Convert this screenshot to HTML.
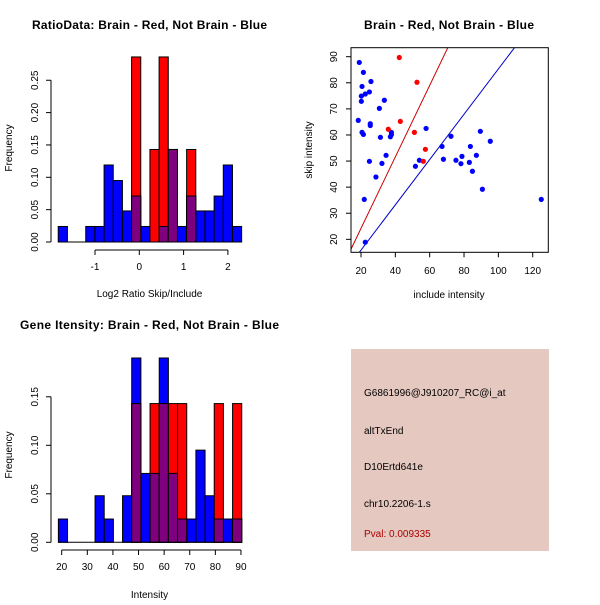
<!DOCTYPE html>
<html><head><meta charset="utf-8"><style>
body{margin:0;background:#fff}
svg text{font-family:"Liberation Sans",Arial,sans-serif}
</style></head><body>
<svg id="c" width="600" height="600" viewBox="0 0 600 600" xmlns="http://www.w3.org/2000/svg">
<rect width="600" height="600" fill="#fff"/>
</svg>
<script>
// ---- Ratio histogram data (20 bins) ----
const ratioBinStart = -1.83;
const ratioBinWidth = 0.207;
const ratioBlue = [0.024,0,0,0.024,0.024,0.119,0.095,0.048,0.071,0.024,0,0.024,0.143,0.024,0.071,0.048,0.048,0.071,0.119,0.024];
const ratioRed  = [0,0,0,0,0,0,0,0,0.286,0,0.143,0.286,0.143,0,0.143,0,0,0,0,0];
const ratioXTicks = [-1,0,1,2];
const ratioYTicks = ["0.00","0.05","0.10","0.15","0.20","0.25"];
// ---- Intensity histogram data (20 bins) ----
const intBinStart = 18.7;
const intBinWidth = 3.58;
const intBlue = [0.024,0,0,0,0.048,0.024,0,0.048,0.190,0.071,0.071,0.190,0.071,0.024,0.024,0.095,0.048,0.024,0.024,0.024];
const intRed  = [0,0,0,0,0,0,0,0,0.143,0,0.143,0.143,0.143,0.143,0,0,0,0.143,0,0.143];
const intXTicks = [20,30,40,50,60,70,80,90];
const intYTicks = ["0.00","0.05","0.10","0.15"];
// ---- Scatter data ----
const blueX = [19.0,21.4,20.6,25.8,24.9,22.5,20.2,20.2,33.6,30.7,18.4,25.4,25.4,20.6,21.4,31.3,37.7,37.7,37.1,34.6,24.9,32.2,28.7,21.9,22.5,57.9,54.0,51.7,72.4,67.2,68.0,75.3,78.8,78.2,83.1,83.7,87.2,84.9,89.5,95.3,90.7,125.0];
const blueY = [87.8,84.0,78.6,80.5,76.5,75.7,74.9,72.9,73.3,70.2,65.6,64.3,63.6,61.0,60.2,59.1,61.0,60.1,59.3,52.2,49.9,49.1,43.9,35.3,18.9,62.5,50.3,48.0,59.5,55.6,50.7,50.3,51.8,49.0,49.5,55.6,52.2,46.1,61.4,57.6,39.2,35.3];
const redX = [42.3,52.6,42.9,35.9,51.1,57.5,56.3];
const redY = [89.7,80.2,65.2,62.2,61.0,54.5,49.9];
const redLine = [-3.2,1.37];   // intercept, slope
const blueLine = [-1.5,0.868];
const scXTicks = [20,40,60,80,100,120];
const scYTicks = [20,30,40,50,60,70,80,90];

const svg = document.getElementById('c');
const NS = 'http://www.w3.org/2000/svg';
function mk(tag, attrs, parent){
  const e = document.createElementNS(NS, tag);
  for (const k in attrs) e.setAttribute(k, attrs[k]);
  (parent||svg).appendChild(e);
  return e;
}
function txt(s, x, y, size, opts){
  const t = mk('text', Object.assign({x:x, y:y, 'font-size':size, 'text-anchor':'middle', fill:'#000'}, opts||{}));
  t.textContent = s;
  return t;
}

function hist(cfg){
  const g = mk('g', {});
  
  
  const xs = v => cfg.x0 + (v - cfg.xv0) * cfg.xk;
  const ys = v => cfg.base - v * cfg.yk;
  cfg.blue.forEach((v,i)=>{
    if (v<=0) return;
    const a = cfg.bs + i*cfg.bw, b = a + cfg.bw;
    const r = mk('rect', {x:xs(a), y:ys(v), width:xs(b)-xs(a), height:ys(0)-ys(v), fill:'#0000ff', stroke:'#000', 'stroke-width':1}, g);
    
    
  });
  cfg.red.forEach((v,i)=>{
    if (v<=0) return;
    const a = cfg.bs + i*cfg.bw, b = a + cfg.bw;
    const ov = Math.min(v, cfg.blue[i]);
    const r = mk('rect', {x:xs(a), y:ys(v), width:xs(b)-xs(a), height:ys(0)-ys(v), fill:'#ff0000', stroke:'#000', 'stroke-width':1}, g);
    
    
    if (ov>0){
      const p = mk('rect', {x:xs(a), y:ys(ov), width:xs(b)-xs(a), height:ys(0)-ys(ov), fill:'#7f007f', stroke:'#000', 'stroke-width':1}, g);
      
      
    }
  });
  mk('line', {x1:xs(cfg.bs), x2:xs(cfg.bs+cfg.bw*cfg.blue.length), y1:cfg.base, y2:cfg.base, stroke:'#000'}, g);
  const yt = cfg.yticks.map(Number);
  mk('line', {x1:51, x2:51, y1:ys(yt[0]), y2:ys(yt[yt.length-1]), stroke:'#000'}, g);
  cfg.yticks.forEach(s=>{
    const y = ys(Number(s));
    mk('line', {x1:46, x2:51, y1:y, y2:y, stroke:'#000'}, g);
    txt(s, 0, 0, 10, {transform:`translate(38,${y}) rotate(-90)`}, g);
  });
  const xl = cfg.axisY;
  mk('line', {x1:xs(cfg.xticks[0]), x2:xs(cfg.xticks[cfg.xticks.length-1]), y1:xl, y2:xl, stroke:'#000'}, g);
  cfg.xticks.forEach(v=>{
    mk('line', {x1:xs(v), x2:xs(v), y1:xl, y2:xl+5, stroke:'#000'}, g);
    txt(String(v), xs(v), xl+20, 10);
  });
}

const t1 = txt('RatioData: Brain - Red, Not Brain - Blue', 149.5, 29, 12, {'font-weight':'bold', textLength:235});


const t2 = txt('Brain - Red, Not Brain - Blue', 449, 29, 12, {'font-weight':'bold', textLength:170});


const t3 = txt('Gene Itensity: Brain - Red, Not Brain - Blue', 149.5, 329, 12, {'font-weight':'bold', textLength:259});



hist({name:'ratio-histogram', blue:ratioBlue, red:ratioRed, bs:ratioBinStart, bw:ratioBinWidth,
  x0:139.3, xv0:0, xk:44.3, base:242, yk:647, yticks:ratioYTicks, xticks:ratioXTicks, axisY:250});
const xl1 = txt('Log2 Ratio Skip/Include', 149.5, 297, 10);


const yl1 = txt('Frequency', 0, 0, 10, {transform:'translate(12,148) rotate(-90)'});



hist({name:'intensity-histogram', blue:intBlue, red:intRed, bs:intBinStart, bw:intBinWidth,
  x0:61.7, xv0:20, xk:2.561, base:542.3, yk:970, yticks:intYTicks, xticks:intXTicks, axisY:550});
const xl2 = txt('Intensity', 149.5, 598, 10);


const yl2 = txt('Frequency', 0, 0, 10, {transform:'translate(12,455) rotate(-90)'});



(function(){
  const g = mk('g', {});
  
  
  const L=351, R=548.3, T=47.7, B=252.3;
  const xs = v => 361 + (v-20)*1.717;
  const ys = v => 56.7 + (90-v)*2.609;
  const cp = mk('clipPath', {id:'scclip'}, g);
  mk('rect', {x:L, y:T, width:R-L, height:B-T}, cp);
  [[redLine,'#cc0000','red-fit-line'],[blueLine,'#0000cc','blue-fit-line']].forEach(([ln,c,n])=>{
    const x1=0, x2=140;
    const l = mk('line', {x1:xs(x1), y1:ys(ln[0]+ln[1]*x1), x2:xs(x2), y2:ys(ln[0]+ln[1]*x2), stroke:c, 'stroke-width':1, 'clip-path':'url(#scclip)'}, g);
    
    
  });
  blueX.forEach((x,i)=>{
    const c = mk('circle', {cx:xs(x), cy:ys(blueY[i]), r:2.6, fill:'#0000ff'}, g);
    
    
  });
  redX.forEach((x,i)=>{
    const c = mk('circle', {cx:xs(x), cy:ys(redY[i]), r:2.6, fill:'#ff0000'}, g);
    
    
  });
  mk('rect', {x:L, y:T, width:R-L, height:B-T, fill:'none', stroke:'#000'}, g);
  scXTicks.forEach(v=>{
    mk('line', {x1:xs(v), x2:xs(v), y1:B, y2:B+5, stroke:'#000'}, g);
    txt(String(v), xs(v), 274, 10);
  });
  scYTicks.forEach(v=>{
    mk('line', {x1:L-5, x2:L, y1:ys(v), y2:ys(v), stroke:'#000'}, g);
    txt(String(v), 0, 0, 10, {transform:`translate(337,${ys(v)}) rotate(-90)`});
  });
})();
const xl3 = txt('include intensity', 449, 298, 10);


const yl3 = txt('skip intensity', 0, 0, 10, {transform:'translate(312,150) rotate(-90)'});



const box = mk('rect', {x:351, y:349, width:198, height:202, fill:'#e5c8c0'});


const lines = [['G6861996@J910207_RC@i_at',396,'#000','probe-id'],['altTxEnd',434,'#000','event-type'],['D10Ertd641e',470,'#000','gene-name'],['chr10.2206-1.s',507,'#000','chromosome-id'],['Pval: 0.009335',537,'#aa0000','p-value']];
lines.forEach(([s,y,c,n])=>{
  const t = txt(s, 364, y, 10, {'text-anchor':'start', fill:c});
  
  
});
</script>
</body></html>
